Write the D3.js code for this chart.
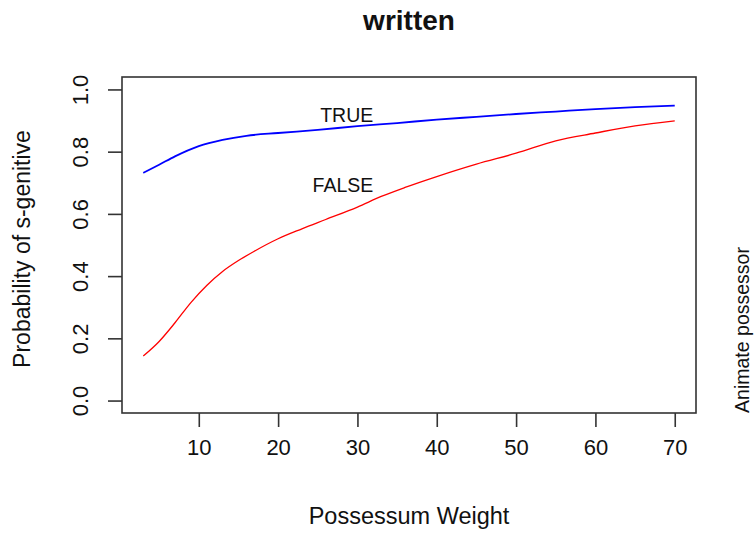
<!DOCTYPE html>
<meta charset="utf-8">
<style>
  body { margin: 0; background: #fff; }
  text { font-family: "Liberation Sans", Arial, sans-serif; fill: #111; }
</style>
<script src="https://d3js.org/d3.v7.min.js"></script>
<div id="chart"></div>
<script>
// weights, probabilities per curve
var weightsTrue = [3, 5, 7, 10, 13, 16, 20, 25, 30, 35, 40, 45, 50, 55, 60, 65, 70];
var probTrue    = [0.732, 0.758, 0.785, 0.818, 0.838, 0.851, 0.860, 0.870, 0.882, 0.892, 0.903, 0.912, 0.921, 0.929, 0.937, 0.943, 0.948];
var weightsFalse = [3, 5, 7, 9, 11, 13, 15, 17, 20, 23, 26, 30, 33, 36, 40, 45, 50, 55, 60, 65, 70];
var probFalse    = [0.143, 0.19, 0.25, 0.315, 0.37, 0.415, 0.45, 0.48, 0.52, 0.552, 0.582, 0.622, 0.656, 0.685, 0.72, 0.76, 0.795, 0.835, 0.86, 0.883, 0.899];
var xTicks = [10, 20, 30, 40, 50, 60, 70];
var yTicks = [0, 0.2, 0.4, 0.6, 0.8, 1.0];

var W = 754, H = 533;
var box = {left: 122, right: 696, top: 77, bottom: 413};

var svg = d3.select("#chart").append("svg")
  .attr("width", W).attr("height", H);

// R style 4% padding around the data range
var x = d3.scaleLinear().domain([3 - 67 * 0.04, 70 + 67 * 0.04]).range([box.left, box.right]);
var y = d3.scaleLinear().domain([-0.04, 1.04]).range([box.bottom, box.top]);

// plot box
svg.append("rect")
  .attr("x", box.left).attr("y", box.top)
  .attr("width", box.right - box.left).attr("height", box.bottom - box.top)
  .attr("fill", "none").attr("stroke", "#333").attr("stroke-width", 1.6);

// x axis
var xAxis = svg.append("g")
  .attr("transform", "translate(0," + box.bottom + ")")
  .call(d3.axisBottom(x).tickValues(xTicks).tickSize(14).tickPadding(12).tickFormat(d3.format("d")));
xAxis.select(".domain").remove();
xAxis.selectAll("line").attr("stroke", "#333").attr("stroke-width", 1.6);
xAxis.selectAll("text").style("font-size", "22px").attr("fill", "#111")
  .style("font-family", "'Liberation Sans', Arial, sans-serif");

// y axis, labels turned like R's default
var yAxis = svg.append("g")
  .attr("transform", "translate(" + box.left + ",0)")
  .call(d3.axisLeft(y).tickValues(yTicks).tickSize(14).tickFormat(d3.format(".1f")));
yAxis.select(".domain").remove();
yAxis.selectAll("line").attr("stroke", "#333").attr("stroke-width", 1.6);
yAxis.selectAll("text")
  .attr("x", null).attr("dy", null)
  .attr("transform", "translate(-34,0) rotate(-90)")
  .attr("text-anchor", "middle")
  .style("font-size", "22px").attr("fill", "#111")
  .style("font-family", "'Liberation Sans', Arial, sans-serif");

var line = d3.line().x(function(d) { return x(d[0]); }).y(function(d) { return y(d[1]); }).curve(d3.curveMonotoneX);

svg.append("path")
  .datum(d3.zip(weightsTrue, probTrue))
  .attr("d", line).attr("fill", "none").attr("stroke", "#0000ff").attr("stroke-width", 1.8);
svg.append("path")
  .datum(d3.zip(weightsFalse, probFalse))
  .attr("d", line).attr("fill", "none").attr("stroke", "#ff0000").attr("stroke-width", 1.3);

// curve labels
svg.append("text").attr("x", x(32)).attr("y", y(0.894))
  .attr("text-anchor", "end").style("font-size", "19.5px").text("TRUE");
svg.append("text").attr("x", x(32)).attr("y", y(0.669))
  .attr("text-anchor", "end").style("font-size", "19.5px").text("FALSE");

// titles
var midX = (box.left + box.right) / 2, midY = (box.top + box.bottom) / 2;
svg.append("text").attr("x", midX).attr("y", 30)
  .attr("text-anchor", "middle").style("font-size", "28px").style("font-weight", "bold").text("written");
svg.append("text").attr("x", midX).attr("y", 524)
  .attr("text-anchor", "middle").style("font-size", "23.5px").text("Possessum Weight");
svg.append("text").attr("transform", "translate(30," + (midY + 4) + ") rotate(-90)")
  .attr("text-anchor", "middle").style("font-size", "23px").text("Probability of s-genitive");
svg.append("text").attr("transform", "translate(749,330) rotate(-90)")
  .attr("text-anchor", "middle").style("font-size", "19.5px").text("Animate possessor");
</script>
